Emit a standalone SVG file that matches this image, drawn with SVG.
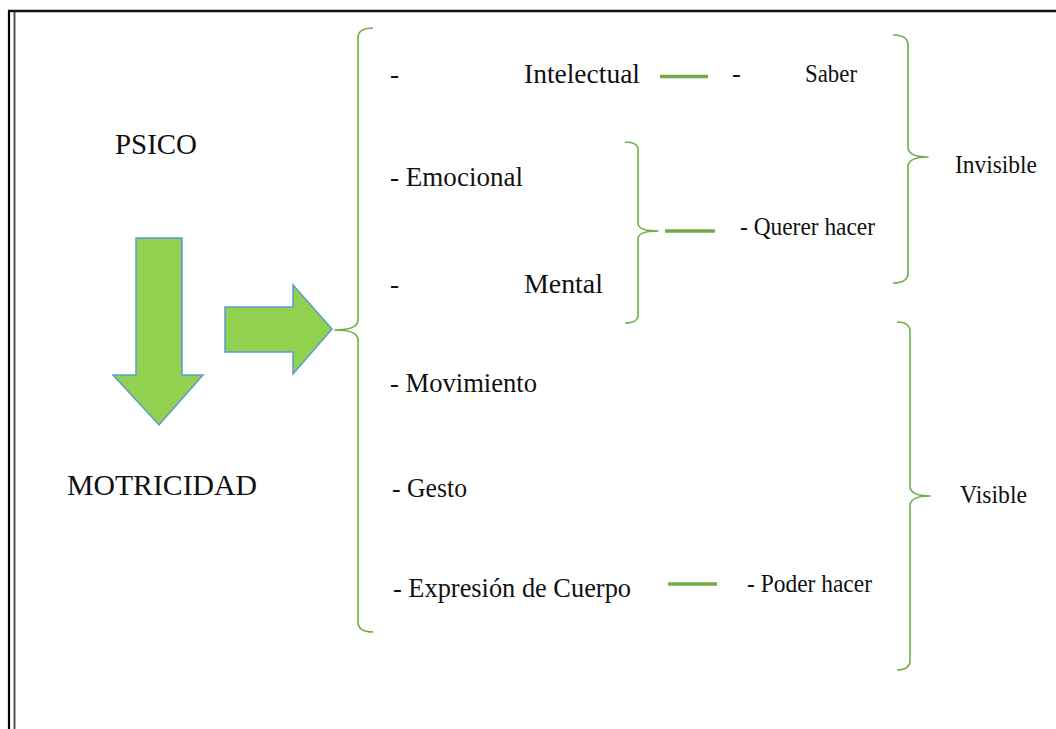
<svg xmlns="http://www.w3.org/2000/svg" width="1056" height="729" viewBox="0 0 1056 729">
<style>
  text { font-family: "Liberation Serif", "Times New Roman", serif; fill: #111; }
  .big { font-size: 30px; }
  .item { font-size: 27px; }
  .side { font-size: 26px; }
  .arrow { fill: #92D050; stroke: #5B9BD5; stroke-width: 1.5; stroke-linejoin: miter; }
  .brace { fill: none; stroke: #70AD47; stroke-width: 1.6; stroke-linejoin: round; }
  .link { stroke: #70AD47; stroke-width: 3.5; }
</style>
<rect x="0" y="0" width="1056" height="729" fill="#ffffff"/>
<g id="frame">
  <line x1="8" y1="11" x2="1056" y2="11" stroke="#111" stroke-width="2.5"/>
  <line x1="9" y1="10" x2="9" y2="729" stroke="#000" stroke-width="2.2"/>
  <line x1="14.5" y1="12" x2="14.5" y2="729" stroke="#555" stroke-width="2"/>
</g>
<g id="psico"><text class="big" x="115" y="154" textLength="82" lengthAdjust="spacingAndGlyphs">PSICO</text></g>
<g id="arrow-down"><polygon class="arrow" points="136,238 182,238 182,375 203,375 159,425 113,375 136,375"/></g>
<g id="motricidad"><text class="big" x="67" y="495" textLength="190" lengthAdjust="spacingAndGlyphs">MOTRICIDAD</text></g>
<g id="arrow-right"><polygon class="arrow" points="225,307 293,307 293,285 332,329 293,374 293,352 225,352"/></g>
<g id="connectors">
  <path class="brace" d="M373,28 Q358,28 358,38 V320 Q358,330 335,330 Q358,330 358,340 V622 Q358,632 373,632"/>
  <path class="brace" d="M625,142 Q638,142 638,150 V223 Q638,231 658,231 Q638,231 638,239 V315 Q638,323 625,323"/>
  <path class="brace" d="M893,35 Q908,35 908,45 V147 Q908,157 928,157 Q908,157 908,167 V273 Q908,283 893,283"/>
  <path class="brace" d="M897,322 Q910,322 910,332 V486 Q910,496 930,496 Q910,496 910,506 V660 Q910,670 897,670"/>
  <line class="link" x1="660" y1="76.5" x2="708" y2="76.5"/>
  <line class="link" x1="665" y1="231" x2="715" y2="231"/>
  <line class="link" x1="668" y1="584" x2="717" y2="584"/>
</g>
<g id="intelectual"><text class="item" y="83"><tspan x="390">-</tspan><tspan x="524" textLength="116" lengthAdjust="spacingAndGlyphs">Intelectual</tspan></text></g>
<g id="emocional"><text class="item" x="390" y="186" textLength="133" lengthAdjust="spacingAndGlyphs">- Emocional</text></g>
<g id="mental"><text class="item" y="293"><tspan x="390">-</tspan><tspan x="524" textLength="79" lengthAdjust="spacingAndGlyphs">Mental</tspan></text></g>
<g id="movimiento"><text class="item" x="390" y="392" textLength="147" lengthAdjust="spacingAndGlyphs">- Movimiento</text></g>
<g id="gesto"><text class="item" x="392" y="497" textLength="75" lengthAdjust="spacingAndGlyphs">- Gesto</text></g>
<g id="expresion"><text class="item" x="393" y="597" textLength="238" lengthAdjust="spacingAndGlyphs">- Expresión de Cuerpo</text></g>
<g id="saber"><text class="side" y="82"><tspan x="732">-</tspan><tspan x="805" textLength="52" lengthAdjust="spacingAndGlyphs">Saber</tspan></text></g>
<g id="querer"><text class="side" x="740" y="235" textLength="135" lengthAdjust="spacingAndGlyphs">- Querer hacer</text></g>
<g id="poder"><text class="side" x="747" y="592" textLength="125" lengthAdjust="spacingAndGlyphs">- Poder hacer</text></g>
<g id="invisible"><text class="side" x="955" y="173" textLength="82" lengthAdjust="spacingAndGlyphs">Invisible</text></g>
<g id="visible"><text class="side" x="960" y="503" textLength="67" lengthAdjust="spacingAndGlyphs">Visible</text></g>
</svg>
